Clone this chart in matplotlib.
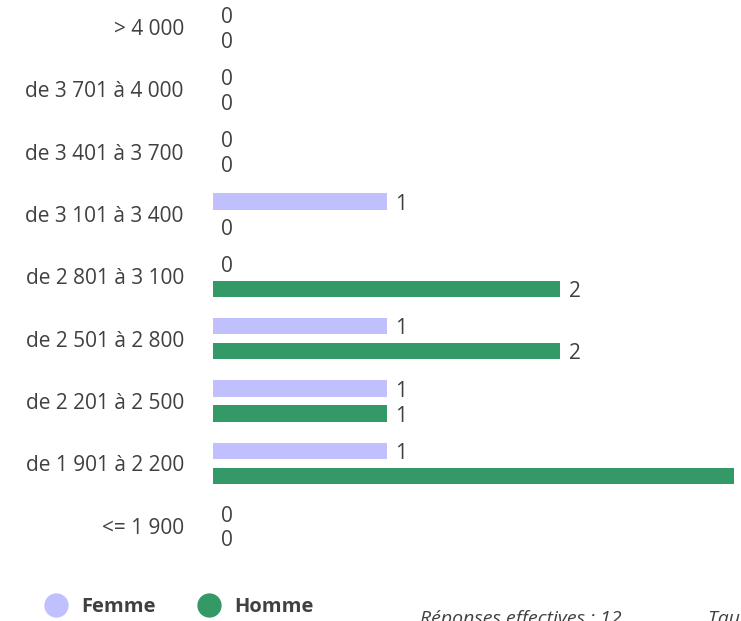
import matplotlib.pyplot as plt
from matplotlib.lines import Line2D
import numpy as np

# données
categories = ['> 4 000', 'de 3 701 à 4 000', 'de 3 401 à 3 700', 'de 3 101 à 3 400',
              'de 2 801 à 3 100', 'de 2 501 à 2 800', 'de 2 201 à 2 500',
              'de 1 901 à 2 200', '<= 1 900']
femme = [0, 0, 0, 1, 0, 1, 1, 1, 0]
homme = [0, 0, 0, 0, 2, 2, 1, 3, 0]
series_names = ['Femme', 'Homme']
colors = ['#c0c0ff', '#339966']
footer = 'Réponses effectives : 12'
footer2 = 'Taux de réponse'

plt.rcParams['font.family'] = ['Open Sans', 'DejaVu Sans']
txt_color = '#404040'
fs = 15

fig = plt.figure(figsize=(7.41, 6.21), dpi=100)
W, H = 741, 621
ax = fig.add_axes([213 / W, 1 - 560 / H, 1 - 213 / W, 560 / H])

y = np.arange(len(categories))
bh = 0.26
off = 0.2
ax.barh(y - off, femme, height=bh, color=colors[0])
ax.barh(y + off, homme, height=bh, color=colors[1])

for vals, dy in [(femme, -off), (homme, off)]:
    for yi, v in zip(y, vals):
        ax.annotate(str(v), (v, yi + dy), xytext=(6, -2), textcoords='offset points',
                    ha='left', va='center', fontsize=fs, color=txt_color)

ax.set_xlim(0, 3.04)
ax.set_ylim(8.55, -0.43)
ax.set_yticks(y)
ax.set_yticklabels(categories, fontsize=fs, color=txt_color)
ax.tick_params(axis='y', length=0, pad=21)
ax.set_xticks([])
for s in ax.spines.values():
    s.set_visible(False)

handles = [Line2D([], [], marker='o', linestyle='', markersize=16.5, color=c) for c in colors]
leg = fig.legend(handles, series_names, loc='center left', bbox_to_anchor=(18 / W, 1 - 607 / H),
                 ncol=2, frameon=False, handletextpad=0.25, columnspacing=1.65,
                 prop={'weight': 'bold', 'size': 14.5})
for t in leg.get_texts():
    t.set_color(txt_color)

fig.text(420 / W, 1 - 610 / H, footer, ha='left', va='top', fontsize=14,
         style='italic', color=txt_color)
fig.text(708 / W, 1 - 610 / H, footer2, ha='left', va='top', fontsize=14,
         style='italic', color=txt_color)

fig.savefig('out.png', dpi=100)
